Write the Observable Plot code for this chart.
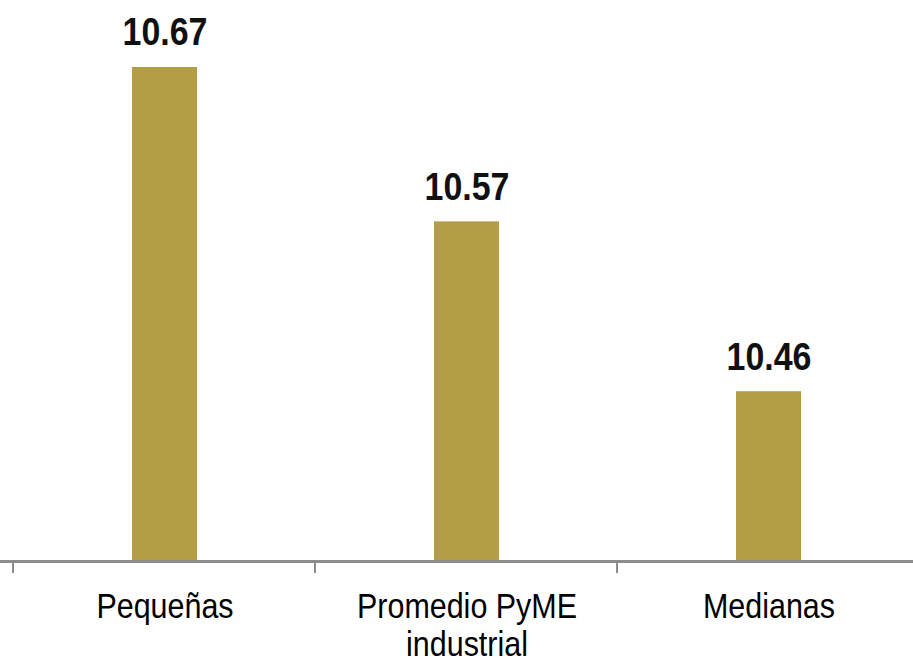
<!DOCTYPE html>
<html>
<head>
<meta charset="utf-8">
<script src="https://cdn.jsdelivr.net/npm/d3@7"></script>
<script src="https://cdn.jsdelivr.net/npm/@observablehq/plot@0.6"></script>
<style>
  html, body { margin: 0; padding: 0; background: #fff; overflow: hidden; }
</style>
</head>
<body>
<div id="chart"></div>
<script>
const categories = ["Pequeñas", "Promedio PyME industrial", "Medianas"];
const tickLabels = ["Pequeñas", "Promedio PyME\nindustrial", "Medianas"];
const values = [10.67, 10.57, 10.46];
const yDomain = [10.35, 10.7134];

const data = categories.map((c, i) => ({category: c, value: values[i]}));
const labelOf = new Map(categories.map((c, i) => [c, tickLabels[i]]));

const font = "'Liberation Sans', Arial, sans-serif";

const chart = Plot.plot({
  width: 913,
  height: 663,
  marginTop: 0,
  marginBottom: 102,
  marginLeft: 0,
  marginRight: 0,
  style: {fontFamily: font, background: "#fff"},
  x: {domain: categories, range: [12, 920], paddingInner: 0.785, paddingOuter: 0.3925, label: null},
  y: {domain: yDomain, axis: null},
  marks: [
    Plot.barY(data, {x: "category", y: "value", fill: "#b39d45", clip: true}),
    Plot.text(data, {
      x: "category", y: "value", text: d => d.value.toFixed(2),
      lineAnchor: "bottom", dy: -22, fontSize: 39, fontWeight: "bold", fill: "#111"
    }),
    Plot.frame({anchor: "bottom", stroke: "#8c8c8c", strokeWidth: 3, strokeOpacity: 1}),
    Plot.axisX({tickSize: 12, dx: -152, text: null, stroke: "#8c8c8c", strokeWidth: 2, strokeOpacity: 1}),
    Plot.axisX({
      tickSize: 0, tickPadding: 29, fontSize: 35, fill: "#000", lineHeight: 1.1,
      tickFormat: d => labelOf.get(d), label: null
    })
  ]
});
document.getElementById("chart").appendChild(chart);

// Emulate a narrow (condensed) face by compressing glyph widths.
d3.select(chart).selectAll("text").each(function () {
  const spans = this.querySelectorAll("tspan");
  const targets = spans.length ? Array.from(spans) : [this];
  for (const el of targets) {
    const len = el.getComputedTextLength();
    if (len > 0) {
      el.setAttribute("textLength", (len * 0.87).toFixed(1));
      el.setAttribute("lengthAdjust", "spacingAndGlyphs");
    }
  }
});
</script>
</body>
</html>
